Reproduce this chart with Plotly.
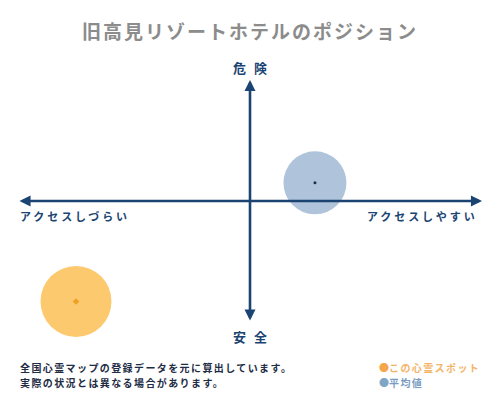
import plotly.graph_objects as go

# data
series_names = ["この心霊スポット", "平均値"]
x_access = [-7.5, 2.8]
y_danger = [-8.3, 1.5]

title_text = "旧高見リゾートホテルのポジション"
top_label = "危 険"
bottom_label = "安 全"
left_label = "アクセスしづらい"
right_label = "アクセスしやすい"
note_lines = ["全国心霊マップの登録データを元に算出しています。", "実際の状況とは異なる場合があります。"]

FONT = "Noto Sans CJK JP"
NAVY = "#1b4472"
fill_colors = ["#fdc96f", "#afc3da"]
dot_colors = ["#f0a020", "#1b3050"]
sizes = [71, 63]
dot_sizes = [5, 3]
legend_dot = ["#f5a54a", "#7fa6c6"]
legend_text = ["#f3b469", "#7b9cc0"]


def spaced(t, s):
    return f"<span style='letter-spacing:{s}px'>{t}</span>"


fig = go.Figure()
for i in range(len(series_names)):
    fig.add_trace(go.Scatter(
        x=[x_access[i]], y=[y_danger[i]], mode="markers", cliponaxis=False,
        marker=dict(size=sizes[i], color=fill_colors[i], line=dict(width=0)),
        showlegend=False, hoverinfo="skip"))
for i in range(len(series_names)):
    fig.add_trace(go.Scatter(
        x=[x_access[i]], y=[y_danger[i]], mode="markers", cliponaxis=False,
        marker=dict(size=dot_sizes[i], color=dot_colors[i], symbol="diamond" if i == 0 else "circle"),
        showlegend=False, name=series_names[i]))

annotations = []
# axes arrows
annotations.append(dict(x=10, y=0, ax=-10, ay=0, xref="x", yref="y", axref="x", ayref="y",
                        text="", showarrow=True, arrowhead=2, arrowside="end+start",
                        arrowsize=0.85, arrowwidth=2.6, arrowcolor=NAVY))
annotations.append(dict(x=0, y=10, ax=0, ay=-10, xref="x", yref="y", axref="x", ayref="y",
                        text="", showarrow=True, arrowhead=2, arrowside="end+start",
                        arrowsize=0.85, arrowwidth=2.6, arrowcolor=NAVY))
# labels (pixel positions, converted below)
annotations.append(dict(x=251, y=67, text="<b>" + spaced(top_label, 2.5) + "</b>", xanchor="center",
                        showarrow=False, font=dict(family=FONT, size=13, color=NAVY)))
annotations.append(dict(x=251, y=336, text="<b>" + spaced(bottom_label, 2.5) + "</b>", xanchor="center",
                        showarrow=False, font=dict(family=FONT, size=13, color=NAVY)))
annotations.append(dict(x=18, y=216, text="<b>" + spaced(left_label, 2.9) + "</b>", xanchor="left",
                        showarrow=False, font=dict(family=FONT, size=11, color=NAVY)))
annotations.append(dict(x=480, y=216, text="<b>" + spaced(right_label, 2.9) + "</b>", xanchor="right",
                        showarrow=False, font=dict(family=FONT, size=11, color=NAVY)))
annotations.append(dict(x=250, y=30, text="<b>" + spaced(title_text, 2.0) + "</b>", xanchor="center",
                        showarrow=False, font=dict(family=FONT, size=19, color="#8c8c8c")))
for j, line in enumerate(note_lines):
    annotations.append(dict(x=18, y=367 + 15 * j, text="<b>" + spaced(line, 1.4) + "</b>", xanchor="left",
                            showarrow=False, font=dict(family=FONT, size=10, color="#1e2c44")))
for j, name in enumerate(series_names):
    annotations.append(dict(x=377, y=367 + 15 * j, xanchor="left",
                            text=f"<span style='color:{legend_dot[j]}'>●</span><b>" + spaced(name, 1.4) + "</b>",
                            showarrow=False, font=dict(family=FONT, size=10, color=legend_text[j])))

# convert pixel-positioned annotations to paper coords
W, H = 500, 400
ML, MR, MT, MB = 18, 18, 80, 78
pw, ph = W - ML - MR, H - MT - MB
for a in annotations[2:]:
    px, py = a["x"], a["y"]
    a["xref"] = "paper"
    a["yref"] = "paper"
    a["x"] = (px - ML) / pw
    a["y"] = 1 - (py - MT) / ph
    a["yanchor"] = "middle"

fig.update_layout(
    width=W, height=H, margin=dict(l=ML, r=MR, t=MT, b=MB),
    paper_bgcolor="white", plot_bgcolor="white",
    xaxis=dict(range=[-10, 10], visible=False, fixedrange=True),
    yaxis=dict(range=[-10, 10], visible=False, fixedrange=True),
    annotations=annotations, showlegend=False,
)
fig.write_html("out.html", config={"staticPlot": True},
               post_script="document.body.style.margin='0';")
